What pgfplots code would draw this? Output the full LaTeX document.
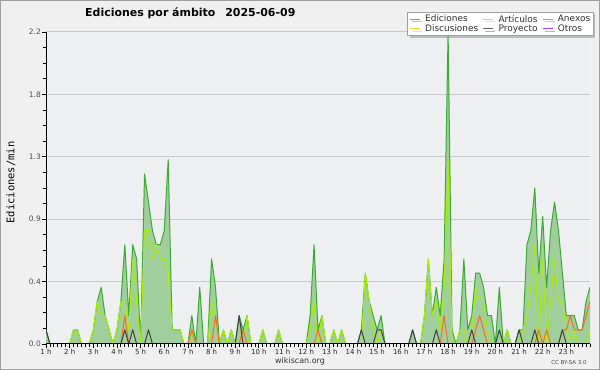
\documentclass[border=0pt]{standalone}
\usepackage{fontspec}
\setmainfont{DejaVu Sans}
\newfontfamily\monofont{DejaVu Sans Mono}
\usepackage{pgfplots}
\usepackage{pgfplotstable}
\pgfplotsset{compat=1.18}
\usetikzlibrary{shadows}
\definecolor{outerbg}{HTML}{F0F0F0}
\definecolor{plotbg}{HTML}{EEEFF1}
\definecolor{framec}{HTML}{A0A0A0}
\definecolor{edfill}{HTML}{A0CF9D}
\definecolor{edline}{HTML}{3AAA35}
\definecolor{artc}{HTML}{AAEE00}
\definecolor{anxc}{HTML}{FF6A1A}
\definecolor{proyc}{HTML}{404040}
\definecolor{discc}{HTML}{FFCC33}
\definecolor{otrc}{HTML}{9944EE}
\definecolor{gridc}{HTML}{C8C8C8}

\pgfplotstableread{
i ed art anx proy
0 0.1 0 0 0.1
1 0 0 0 0
2 0 0 0 0
3 0 0 0 0
4 0 0 0 0
5 0 0 0 0
6 0 0 0 0
7 0.1 0.1 0 0
8 0.1 0.1 0 0
9 0 0 0 0
10 0 0 0 0
11 0 0 0 0
12 0.1 0.1 0 0
13 0.3 0.3 0 0
14 0.4 0.2 0 0
15 0.2 0.2 0 0
16 0.1 0.1 0 0
17 0 0 0 0
18 0.1 0.1 0 0
19 0.3 0.3 0 0
20 0.7 0.3 0.2 0.1
21 0.2 0.1 0 0
22 0.7 0.6 0 0.1
23 0.6 0.3 0 0
24 0 0 0 0
25 1.2 0.8 0 0
26 1.0 0.8 0 0.1
27 0.8 0.6 0 0
28 0.7 0.7 0 0
29 0.7 0.6 0 0
30 0.8 0.6 0 0
31 1.3 0.5 0 0
32 0.1 0.1 0 0
33 0.1 0.1 0 0
34 0.1 0.1 0 0
35 0 0 0 0
36 0 0 0 0
37 0.2 0.1 0.1 0
38 0 0 0 0
39 0.4 0 0 0
40 0 0 0 0
41 0 0 0 0
42 0.6 0.3 0 0
43 0.4 0.2 0.2 0
44 0 0 0 0
45 0.1 0.1 0 0
46 0 0 0 0
47 0.1 0.1 0 0
48 0 0 0 0
49 0.2 0 0 0.2
50 0.1 0 0.1 0
51 0.2 0.2 0 0
52 0 0 0 0
53 0 0 0 0
54 0 0 0 0
55 0.1 0.1 0 0
56 0 0 0 0
57 0 0 0 0
58 0 0 0 0
59 0.1 0.1 0 0
60 0 0 0 0
61 0 0 0 0
62 0 0 0 0
63 0 0 0 0
64 0 0 0 0
65 0 0 0 0
66 0 0 0 0
67 0.2 0.1 0 0
68 0.7 0.3 0 0
69 0.1 0 0.1 0
70 0.2 0.2 0 0
71 0 0 0 0
72 0 0 0 0
73 0.1 0.1 0 0
74 0 0 0 0
75 0.1 0.1 0 0
76 0 0 0 0
77 0 0 0 0
78 0 0 0 0
79 0 0 0 0
80 0.1 0 0 0.1
81 0.5 0.5 0 0
82 0.3 0.3 0 0
83 0.2 0.1 0 0
84 0.1 0 0 0.1
85 0.2 0.1 0 0.1
86 0 0 0 0
87 0 0 0 0
88 0 0 0 0
89 0 0 0 0
90 0 0 0 0
91 0 0 0 0
92 0 0 0 0
93 0.1 0 0 0.1
94 0 0 0 0
95 0 0 0 0
96 0.2 0.2 0 0
97 0.6 0.6 0 0
98 0.2 0.2 0 0
99 0.4 0.3 0 0.1
100 0.2 0.1 0 0
101 0.6 0.4 0.2 0
102 2.2 1.3 0 0
103 0.1 0 0 0
104 0 0 0 0
105 0.1 0.1 0 0
106 0.6 0.1 0 0
107 0.1 0 0 0
108 0.2 0.1 0 0.1
109 0.5 0.4 0.1 0
110 0.5 0.3 0.2 0
111 0.4 0.3 0.1 0
112 0.2 0.1 0 0
113 0.2 0 0 0
114 0 0 0 0
115 0.4 0 0 0.1
116 0 0 0 0
117 0.1 0.1 0 0
118 0 0 0 0
119 0 0 0 0
120 0.1 0 0 0.1
121 0.1 0.1 0 0
122 0.7 0.2 0 0
123 0.8 0.4 0 0
124 1.1 0.7 0 0.1
125 0.5 0 0.1 0
126 0.9 0.6 0 0
127 0.4 0 0.1 0
128 0.8 0.3 0 0
129 1.0 0.6 0 0
130 0.8 0.3 0 0
131 0.5 0.3 0.1 0.1
132 0.2 0.1 0.1 0
133 0.2 0 0.2 0
134 0.2 0.1 0.1 0
135 0.1 0 0.1 0
136 0.1 0 0.1 0
137 0.3 0 0.2 0
138 0.4 0.1 0.3 0
}\data

\begin{document}
\begin{tikzpicture}
\useasboundingbox (0,0) rectangle (600bp,370bp);
\fill[outerbg] (0,0) rectangle (600bp,370bp);
\draw[framec, line width=1bp] (0.5bp,0.5bp) rectangle (599.5bp,369.5bp);
\begin{axis}[
  at={(46bp,26bp)}, anchor=south west,
  scale only axis, width=544bp, height=312bp,
  xmin=0, xmax=138, ymin=0, ymax=2.2,
  axis x line*=bottom, axis y line*=left,
  axis line style={-, black, line width=1bp},
  axis background/.style={fill=plotbg},
  xtick={0,6,...,132},
  xticklabels={1 h,2 h,3 h,4 h,5 h,6 h,7 h,8 h,9 h,10 h,11 h,12 h,13 h,14 h,15 h,16 h,17 h,18 h,19 h,20 h,21 h,22 h,23 h},
  minor xtick={0,1,...,138},
  ytick={0,0.44,0.88,1.32,1.76,2.2},
  yticklabels={0.0,0.4,0.9,1.3,1.8,2.2},
  minor y tick num=3,
  tick align=outside,
  major tick length=4bp, minor tick length=3bp,
  tick style={black, line width=0.8bp},
  ymajorgrids, grid style={gridc, line width=1bp},
  xticklabel style={font=\fontsize{7}{8}\selectfont, text=black!85, inner sep=1bp},
  yticklabel style={font=\fontsize{7.5}{8}\selectfont, text=black!70, inner sep=1bp},
  legend columns=3,
  legend cell align=left,
  legend image code/.code={\draw[#1, line width=1bp] (0bp,0bp) -- (10bp,0bp);},
  legend style={at={(1.0055,1.064)}, anchor=north east, draw=framec, fill=white,
    font=\fontsize{9}{10}\selectfont, text=black!80, inner sep=2bp,
    nodes={inner sep=0.6bp},
    /tikz/every odd column/.append style={column sep=4bp},
    /tikz/every even column/.append style={column sep=4bp},
    drop shadow={shadow xshift=2bp, shadow yshift=-2bp, fill=black!45}},
]
\addplot[draw=none, fill=edfill, forget plot] table[x=i,y=ed]{\data} \closedcycle;
\addplot[edline, line width=1bp, line join=round, forget plot] table[x=i,y=ed]{\data};
\addplot[artc, line width=1bp, line join=round, forget plot] table[x=i,y=art]{\data};
\addplot[anxc, line width=1bp, line join=round, forget plot] table[x=i,y=anx]{\data};
\addplot[proyc, line width=1bp, line join=round, forget plot] table[x=i,y=proy]{\data};
\draw[black, line width=1bp] (axis cs:0,0) -- (axis cs:138,0);
\addlegendimage{edline!80}
\addlegendimage{artc!80}
\addlegendimage{anxc!80}
\addlegendimage{discc}
\addlegendimage{proyc!80}
\addlegendimage{otrc}
\legend{Ediciones,Artículos,Anexos,Discusiones,Proyecto,Otros}
\end{axis}
\node[anchor=west, inner sep=0pt, font=\bfseries\fontsize{11}{13}\selectfont] at (85bp,357bp) {Ediciones por ámbito\hspace{0.9em}2025-06-09};
\node[rotate=90, inner sep=0pt, font=\monofont\fontsize{10.5}{12}\selectfont] at (11bp,187.5bp) {Ediciones/min};
\node[inner sep=0pt, font=\fontsize{8}{9}\selectfont, text=black!80] at (300bp,8.5bp) {wikiscan.org};
\node[inner sep=0pt, font=\fontsize{5.5}{6}\selectfont, text=black!70] at (569bp,7.5bp) {CC BY-SA 3.0};
\end{tikzpicture}
\end{document}
